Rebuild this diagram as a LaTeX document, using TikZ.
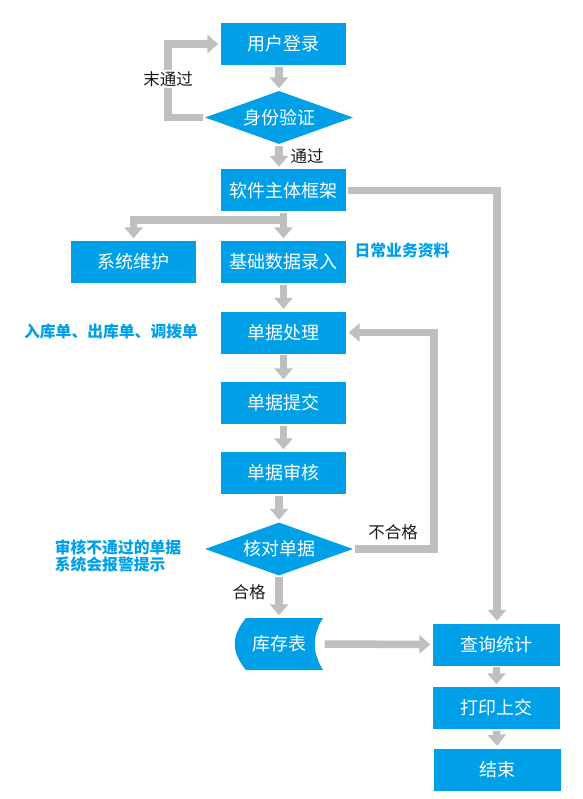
\documentclass[tikz,border=0pt]{standalone}
\usepackage{fontspec}
\setmainfont{Noto Sans CJK SC}
\usepackage{xcolor}
\definecolor{fcblue}{HTML}{00A0E9}
\definecolor{fcgray}{HTML}{BFBFBF}
\definecolor{fcink}{HTML}{1A1A1A}
\usetikzlibrary{arrows.meta,positioning,calc,shapes.geometric}
\tikzset{
  fcbox/.style   ={rectangle, fill=fcblue, draw=none, minimum width=125pt,
                   minimum height=42pt, inner sep=0pt, align=center,
                   font=\fontsize{18}{21}\selectfont, text=white},
  fcdiam/.style  ={diamond, aspect=2.8, fill=fcblue, draw=none, minimum width=148pt,
                   minimum height=53pt, inner sep=0pt, align=center,
                   font=\fontsize{18}{21}\selectfont, text=white},
  fcline/.style  ={draw=fcgray, line width=7.5pt, line join=miter},
  fcarrow/.style ={fcline, -{Triangle[length=11pt,width=18pt]},
                   shorten >=2.5pt, shorten <=1.5pt},
  fclbl/.style   ={font=\fontsize{16.5}{19}\selectfont, text=fcink, inner sep=1pt},
  fcnote/.style  ={font=\fontsize{15.8}{17}\selectfont\bfseries, text=fcblue,
                   align=left, inner sep=0pt},
}

\begin{document}
\begin{tikzpicture}[x=1pt, y=-1pt]
  \useasboundingbox (0,0) rectangle (582,799);
  % main column
  \node[fcbox]  (login)  at (283.5,44)  {用户登录};
  \node[fcdiam] (verify) at (279,117.5) {身份验证};
  \node[fcbox]  (frame)  at (283.5,190.5) {软件主体框架};
  \node[fcbox]  (sysm)   at (133.5,262) {系统维护};
  \node[fcbox]  (base)   at (283.5,262) {基础数据录入};
  \node[fcbox]  (proc)   at (283.5,332.5) {单据处理};
  \node[fcbox]  (submit) at (283.5,403) {单据提交};
  \node[fcbox]  (audit)  at (283.5,473) {单据审核};
  \node[fcdiam] (check)  at (279,549)   {核对单据};
  % stock table, drawn as a curved shape
  \fill[fcblue] (246,618) -- (323,618)
    .. controls (312,636) and (312,652) .. (323,670) -- (246,670)
    .. controls (231,652) and (231,636) .. (246,618) -- cycle;
  \node[minimum width=88pt, minimum height=52pt, inner sep=0pt,
        font=\fontsize{18}{21}\selectfont, text=white] (stock) at (279,644) {库存表};
  % right column
  \node[fcbox, minimum width=127pt] (query) at (496.5,644.5) {查询统计};
  \node[fcbox, minimum width=127pt] (print) at (496.5,708)   {打印上交};
  \node[fcbox, minimum width=127pt] (fin)   at (497.5,769.5) {结束};

  % turning points
  \coordinate (lturn) at (168,44);
  \coordinate (bj)    at (283.5,220);
  \coordinate (rturn) at (434,332.5);
  \coordinate (qturn) at (497,190.5);

  % connectors
  \draw[fcarrow] (verify.north |- login.south) -- (verify.north);
  \draw[fcarrow] (verify.west) -| (lturn) -- (login.west);
  \draw[fcarrow] (verify.south) -- (verify.south |- frame.north);
  \draw[fcarrow] (frame.south) -- (base.north);
  \draw[fcarrow] (bj) -| (sysm.north);
  \draw[fcarrow] (frame.east) -- (qturn) -- (qturn |- query.north);
  \draw[fcarrow] (base.south) -- (proc.north);
  \draw[fcarrow] (proc.south) -- (submit.north);
  \draw[fcarrow] (submit.south) -- (audit.north);
  \draw[fcarrow] (check.north |- audit.south) -- (check.north);
  \draw[fcarrow] (check.east) -| (rturn) -- (proc.east);
  \draw[fcarrow] (check.south) -- (stock.north);
  \draw[fcarrow] (stock.east) -- (query.west);
  \draw[fcarrow] (query.south) -- (print.north);
  \draw[fcarrow] (print.south) -- (fin.north);

  % labels
  \node[fclbl, fill=white] (nopass) at (168,79)  {末通过};
  \node[fclbl] (pass)   at (307,156) {通过};
  \node[fclbl] (fail)   at (393,532) {不合格};
  \node[fclbl] (ok)     at (249,592) {合格};
  \node[fcnote] (daily) at (402,251) {日常业务资料};
  \node[fcnote] (kinds) at (111,331) {入库单、出库单、调拨单};
  \node[fcnote] (alarm) at (118,556) {审核不通过的单据\\系统会报警提示};
\end{tikzpicture}
\end{document}
